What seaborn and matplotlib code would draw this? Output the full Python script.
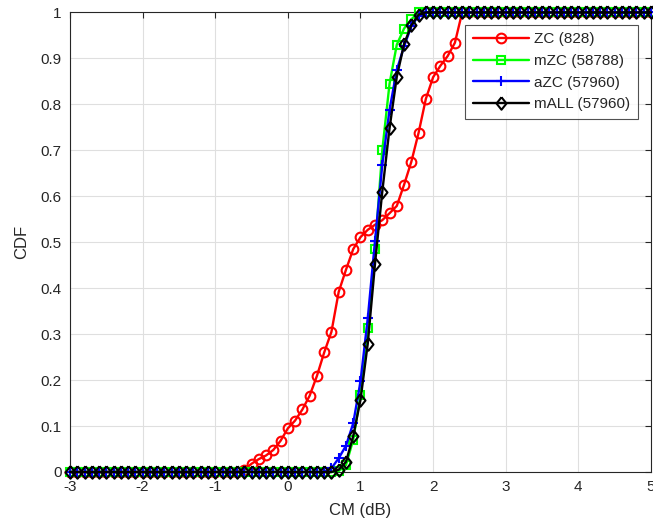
import matplotlib
matplotlib.use("Agg")
import matplotlib.pyplot as plt
import seaborn as sns

# CM grid (dB), one point every 0.1 dB
cm_db = [-3.0, -2.9, -2.8, -2.7, -2.6, -2.5, -2.4, -2.3, -2.2, -2.1,
         -2.0, -1.9, -1.8, -1.7, -1.6, -1.5, -1.4, -1.3, -1.2, -1.1,
         -1.0, -0.9, -0.8, -0.7, -0.6, -0.5, -0.4, -0.3, -0.2, -0.1,
         0.0, 0.1, 0.2, 0.3, 0.4, 0.5, 0.6, 0.7, 0.8, 0.9,
         1.0, 1.1, 1.2, 1.3, 1.4, 1.5, 1.6, 1.7, 1.8, 1.9,
         2.0, 2.1, 2.2, 2.3, 2.4, 2.5, 2.6, 2.7, 2.8, 2.9,
         3.0, 3.1, 3.2, 3.3, 3.4, 3.5, 3.6, 3.7, 3.8, 3.9,
         4.0, 4.1, 4.2, 4.3, 4.4, 4.5, 4.6, 4.7, 4.8, 4.9, 5.0]

# CDF values
cdf_zc = [0.0] * 24 + [0.005, 0.018, 0.028, 0.036, 0.048, 0.068, 0.095, 0.112,
                       0.136, 0.166, 0.209, 0.26, 0.305, 0.392, 0.44, 0.485,
                       0.511, 0.527, 0.538, 0.548, 0.563, 0.579, 0.625, 0.675,
                       0.738, 0.812, 0.859, 0.884, 0.905, 0.934] + [1.0] * 27
cdf_mzc = [0.0] * 37 + [0.002, 0.015, 0.07, 0.168, 0.313, 0.485, 0.70, 0.845,
                        0.93, 0.965, 0.985] + [1.0] * 33
cdf_azc = [0.0] * 36 + [0.008, 0.03, 0.057, 0.106, 0.197, 0.334, 0.503, 0.668,
                        0.788, 0.875, 0.926, 0.97, 0.993] + [1.0] * 32
cdf_mall = [0.0] * 37 + [0.005, 0.022, 0.078, 0.157, 0.279, 0.453, 0.61, 0.748,
                         0.86, 0.931, 0.972, 0.995] + [1.0] * 32

labels = ["ZC (828)", "mZC (58788)", "aZC (57960)", "mALL (57960)"]
colors = ["#ff0000", "#00ff00", "#0000ff", "#000000"]
# matlab-like diamond (a bit taller than wide)
diamond = [(0, 1), (0.8, 0), (0, -1), (-0.8, 0), (0, 1)]
markers = ["o", "s", "+", diamond]
msizes = [7, 5.5, 7.5, 9]
series = [cdf_zc, cdf_mzc, cdf_azc, cdf_mall]

sns.set_style("white")
plt.rcParams["font.family"] = ["Liberation Sans", "DejaVu Sans"]

fig = plt.figure(figsize=(6.53, 5.27), dpi=100)
ax = fig.add_axes([0.1072, 0.1044, 0.8897, 0.872])

for y, lab, c, m, ms in zip(series, labels, colors, markers, msizes):
    sns.lineplot(x=cm_db, y=y, ax=ax, label=lab, color=c, linewidth=1.7,
                 marker=m, markersize=ms, markerfacecolor="none",
                 markeredgecolor=c, markeredgewidth=1.5,
                 clip_on=False, zorder=3)

ax.set_xlim(-3, 5)
ax.set_ylim(0, 1)
ax.set_xticks([-3, -2, -1, 0, 1, 2, 3, 4, 5])
ax.set_xticklabels(["-3", "-2", "-1", "0", "1", "2", "3", "4", "5"])
ax.set_yticks([i / 10 for i in range(11)])
ax.set_yticklabels(["0", "0.1", "0.2", "0.3", "0.4", "0.5", "0.6", "0.7", "0.8", "0.9", "1"])

ax.grid(True, color="#dfdfdf", linewidth=0.8)
ax.set_axisbelow(True)
for s in ax.spines.values():
    s.set_color("#262626")
    s.set_linewidth(0.8)
ax.tick_params(direction="in", length=4, width=0.8, colors="#262626",
               labelsize=11, top=True, right=True, pad=6)

ax.set_xlabel("CM (dB)", fontsize=12, color="#262626", labelpad=6)
ax.set_ylabel("CDF", fontsize=12, color="#262626", labelpad=8)

leg = ax.legend(loc="upper right", bbox_to_anchor=(0.978, 0.973), borderaxespad=0,
                fontsize=11, frameon=True, fancybox=False, handlelength=3.7,
                handletextpad=0.35, labelspacing=0.5, borderpad=0.5)
leg.get_frame().set_edgecolor("#262626")
leg.get_frame().set_linewidth(0.8)
leg.set_zorder(5)

fig.savefig("out.png", dpi=100)
